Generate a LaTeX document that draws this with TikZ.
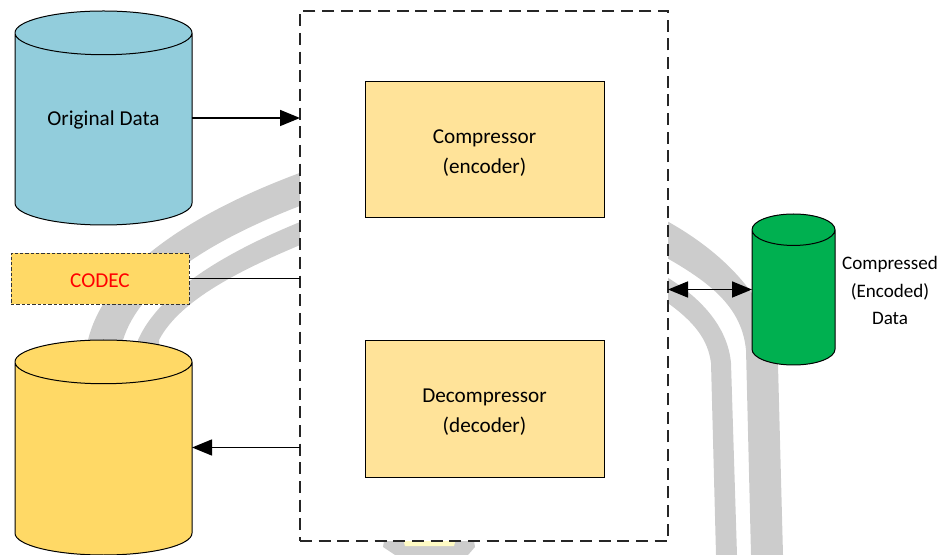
\documentclass[tikz,border=0pt]{standalone}
\usepackage{fontspec}
\setmainfont{Carlito}
\usetikzlibrary{shapes,shapes.geometric,arrows.meta,calc,positioning}
\definecolor{bandgray}{HTML}{CCCCCC}
\definecolor{datablue}{HTML}{92CDDC}
\definecolor{datagold}{HTML}{FFD966}
\definecolor{datagreen}{HTML}{00B050}
\definecolor{boxgold}{HTML}{FFE399}
\definecolor{stripyellow}{HTML}{FFFBC4}
\begin{document}
\begin{tikzpicture}[%
x=0.75pt,
y=-0.75pt,
>={Stealth[length=15pt,width=12pt,inset=0pt]},
font=\fontsize{15.9}{22.5}\selectfont,
band/.style={fill=bandgray, draw=none},
store/.style={cylinder, shape border rotate=90, anchor=shape center, draw=black, line width=0.75pt, inner sep=0pt, outer sep=0pt, cylinder uses custom fill},
boxnode/.style={rectangle, draw=black, line width=0.5pt, fill=boxgold, inner sep=0pt, align=center, text height=38pt, minimum width=179.25pt, minimum height=102.5pt},
link/.style={line width=1.2pt}
]
\useasboundingbox (0,0) rectangle (941,555);

% grey bands behind everything
\fill[band] (305,171) .. controls (190,213) and (105,270) .. (88,340) -- (88,350) -- (123,350) -- (123,340) .. controls (140,285) and (210,240) .. (305,204) -- cycle;
\fill[band] (305,220) .. controls (230,250) and (160,290) .. (138,340) -- (138,350) -- (159,350) -- (159,340) .. controls (180,300) and (240,270) .. (305,243) -- cycle;
\fill[band] (665,220) .. controls (720,250) and (775,300) .. (778,365) -- (783,555) -- (751,555) -- (746,350) .. controls (742,310) and (715,285) .. (665,257) -- cycle;
\fill[band] (665,276) .. controls (705,300) and (728,330) .. (731,363) -- (737,555) -- (716,555) -- (711,363) .. controls (708,340) and (695,322) .. (665,301) -- cycle;
\fill[band] (385,535) -- (473,535) -- (475,547) -- (468,555) -- (395,555) -- (383,547) -- cycle;
\fill[stripyellow] (402,535) -- (457,535) -- (454,546) -- (405,546) -- cycle;

% white frame
\node[rectangle, draw=black!85, fill=white, line width=1.1pt, dash pattern=on 9pt off 5pt, minimum width=276pt, minimum height=397.5pt, inner sep=0pt, outer sep=0pt] (frame) at (484,276) {};

% stores
\node[store, aspect=0.41, text width=80pt, cylinder body fill=datablue, cylinder end fill=datablue, minimum width=132.75pt, minimum height=160.5pt] (orig) at (103.5,118) {};
\node[store, aspect=0.41, text width=80pt, cylinder body fill=datagold, cylinder end fill=datagold, minimum width=132.75pt, minimum height=161.25pt] (restored) at (103.5,447.5) {};
\node[store, aspect=0.59, text width=40pt, cylinder body fill=datagreen, cylinder end fill=datagreen, minimum width=62.25pt, minimum height=113.25pt] (packed) at (793.5,289.5) {};
\node[inner sep=0pt, yshift=-1.5pt] (origlabel) at (orig.shape center) {Original Data};
\node[align=center, inner sep=0pt, font=\fontsize{14.3}{20.5}\selectfont] (packedlabel) at (890,290.5) {Compressed\\(Encoded)\\Data};

% boxes
\node[boxnode] (comp) at (484.5,149.5) {Compressor\\(encoder)};
\node[boxnode] (decomp) [below=91.5pt of comp] {Decompressor\\(decoder)};
\node[rectangle, draw=black!80, line width=0.6pt, dash pattern=on 2.5pt off 1.5pt, fill=datagold, text=red, text height=14pt, inner sep=0pt, outer sep=0pt, minimum width=133.5pt, minimum height=38.25pt] (codec) at (100,278.5) {CODEC};

% links
\draw[link,->] (orig.east |- orig.shape center) -- (orig.shape center -| frame.west);
\draw[link] (codec.east) -- (codec.east -| frame.west);
\draw[link,->] (restored.shape center -| frame.west) -- (restored.east |- restored.shape center);
\draw[link,<->] (packed.shape center -| frame.east) -- (packed.west |- packed.shape center);
\end{tikzpicture}
\end{document}
